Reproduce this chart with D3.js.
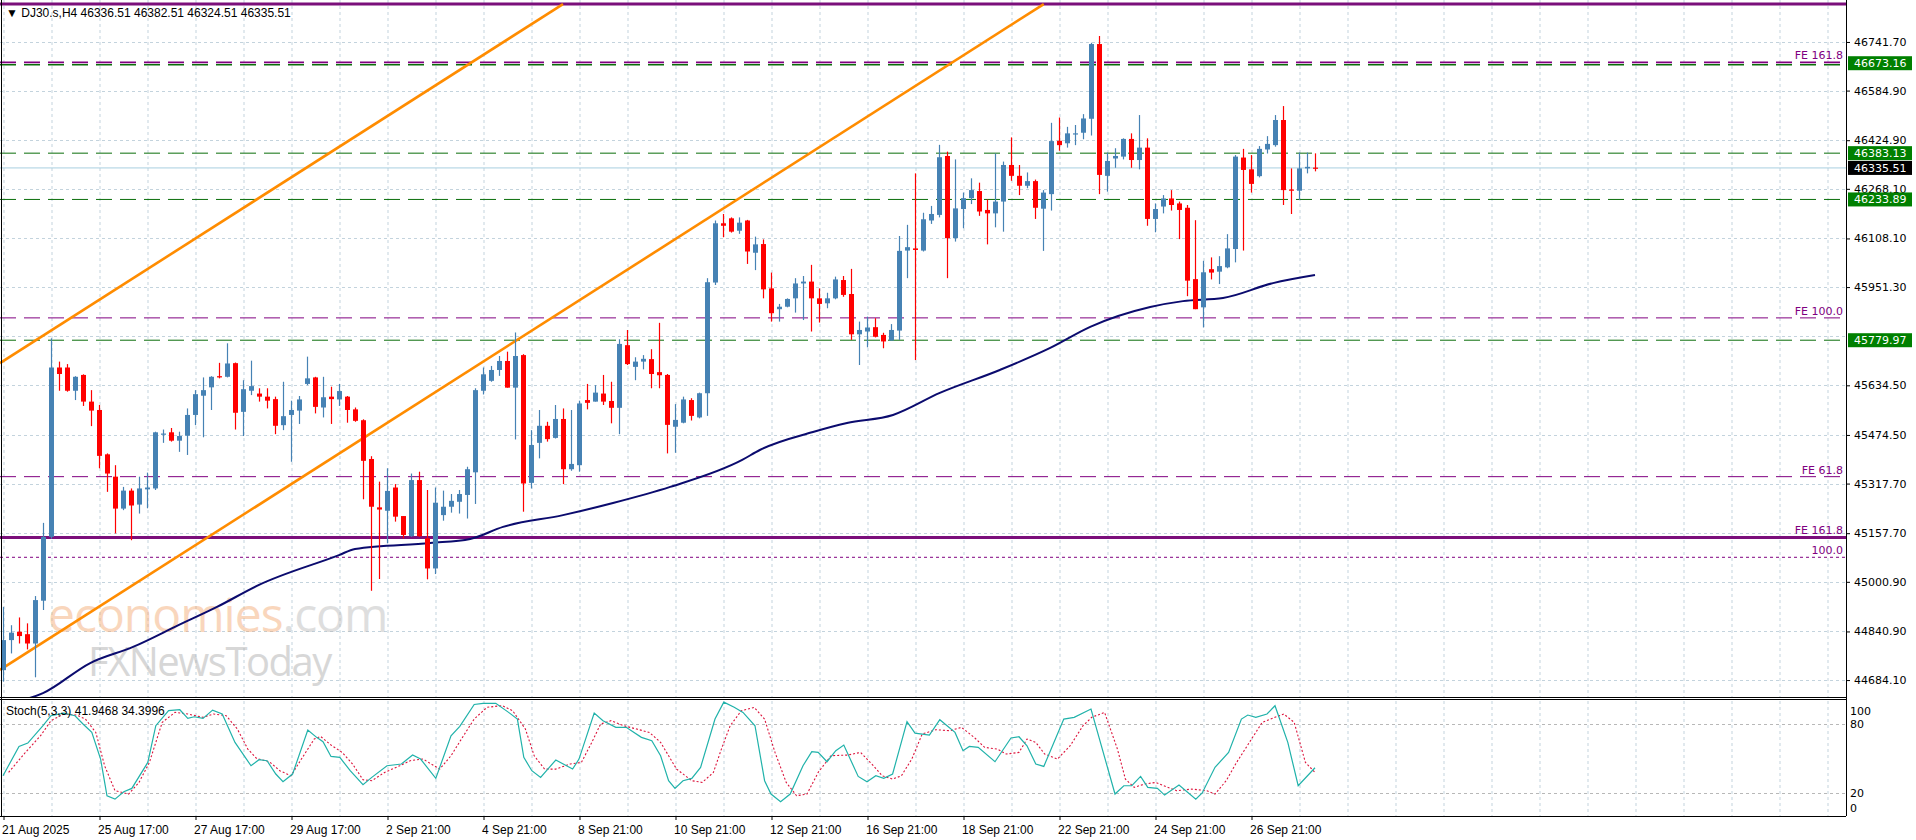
<!DOCTYPE html>
<html lang="en">
<head>
<meta charset="UTF-8">
<title>DJ30.s H4</title>
<script src="https://d3js.org/d3.v7.min.js"></script>
<style>
  body { margin: 0; background: #fff; }
  svg { display: block; }
  .axis-text { font-family: "DejaVu Sans", sans-serif; font-size: 11px; fill: #000; }
  .date-text { font-family: "Liberation Sans", sans-serif; font-size: 12px; fill: #000; }
</style>
</head>
<body>
<svg id="chart"></svg>
<script>
// --- data (H4 candles) ---
const opens = [44716,44813,44840,44832,44802,44940,45146,45692,45692,45617,45668,45582,45555,45412,45340,45237,45295,45250,45299,45302,
  45476,45483,45456,45472,45539,45601,45628,45664,45662,45706,45549,45617,45608,45598,45590,45506,45539,45553,45639,45660,
  45563,45598,45589,45598,45557,45522,45397,45241,45230,45305,45213,45148,45329,45141,45044,45216,45243,45259,45281,45354,
  45617,45649,45684,45713,45627,45732,45320,45449,45504,45465,45526,45364,45377,45587,45582,45608,45584,45562,45764,45694,
  45711,45719,45677,45668,45501,45514,45587,45531,45609,45966,46157,46173,46133,46166,46062,46090,45947,45880,45888,45915,
  45963,45969,45915,45899,45915,45974,45929,45799,45808,45822,45797,45779,45811,46069,46076,46069,46166,46184,46374,46109,
  46203,46238,46261,46200,46189,46227,46345,46310,46278,46293,46204,46251,46423,46415,46445,46449,46494,46735,46310,46366,
  46372,46429,46361,46401,46171,46211,46237,46221,46207,45977,45886,46009,46001,46015,46074,46369,46331,46309,46395,46409,
  46490,46266,46262,46334,46336.51];
const highs = [44920,44861,44886,44867,44955,45191,45786,45711,45703,45664,45670,45619,45571,45415,45377,45307,45302,45340,45353,45485,
  45492,45497,45485,45560,45619,45660,45664,45707,45770,45708,45651,45714,45625,45625,45598,45646,45585,45600,45727,45662,
  45662,45630,45639,45600,45563,45525,45406,45324,45367,45316,45213,45350,45356,45297,45305,45295,45284,45297,45372,45625,
  45692,45697,45729,45743,45805,45735,45490,45555,45517,45571,45560,45555,45585,45639,45635,45668,45646,45783,45813,45725,
  45732,45751,45836,45671,45574,45598,45593,45611,45980,46166,46187,46176,46176,46168,46114,46105,45998,45897,45915,45980,
  45987,46023,45947,45933,45985,45987,46010,45840,45856,45851,45804,45832,46116,46152,46318,46191,46213,46410,46388,46363,
  46256,46302,46288,46234,46382,46356,46434,46345,46321,46298,46264,46481,46498,46468,46474,46509,46739,46761,46385,46399,
  46431,46447,46506,46431,46221,46248,46264,46227,46216,46167,46036,46047,46051,46122,46377,46397,46377,46406,46438,46506,
  46535,46334,46385,46385,46382.51];
const lows = [44679,44770,44802,44783,44693,44910,45140,45617,45614,45587,45568,45503,45367,45291,45157,45232,45135,45221,45238,45297,
  45449,45453,45420,45410,45506,45467,45555,45657,45660,45492,45471,45603,45582,45560,45477,45490,45388,45510,45635,45544,
  45531,45510,45568,45514,45517,45267,44972,45010,45125,45195,45141,45146,45146,45009,45026,45198,45224,45221,45205,45252,
  45605,45646,45665,45627,45460,45227,45302,45399,45453,45463,45316,45359,45356,45557,45582,45571,45512,45477,45700,45651,
  45686,45625,45625,45415,45417,45512,45521,45528,45536,45958,46112,46127,46123,46026,46006,45915,45840,45840,45886,45869,
  45845,45808,45837,45883,45912,45920,45781,45700,45757,45789,45754,45779,45781,45980,45716,46066,46155,46176,45980,46098,
  46141,46219,46181,46089,46144,46130,46294,46248,46270,46171,46068,46198,46391,46401,46409,46428,46440,46251,46259,46336,
  46363,46336,46331,46149,46128,46189,46198,46106,45922,45880,45821,45976,45961,46012,46031,46069,46256,46305,46382,46404,
  46216,46187,46232,46318,46324.51];
const closes = [44813,44837,44826,44802,44942,45146,45692,45671,45617,45662,45582,45553,45407,45350,45237,45295,45247,45302,45305,45483,
  45479,45456,45471,45539,45606,45619,45662,45660,45705,45546,45622,45632,45598,45585,45504,45535,45555,45589,45657,45565,
  45596,45590,45616,45555,45520,45391,45243,45234,45294,45211,45152,45329,45148,45044,45256,45243,45262,45284,45364,45619,
  45670,45684,45713,45627,45729,45318,45442,45504,45461,45526,45364,45381,45576,45578,45611,45582,45562,45768,45703,45711,
  45720,45671,45667,45507,45523,45589,45536,45609,45967,46157,46149,46130,46159,46066,46089,45944,45867,45888,45913,45963,
  45969,45915,45897,45915,45976,45926,45799,45813,45821,45791,45776,45813,46068,46080,46071,46170,46187,46370,46109,46205,
  46238,46264,46195,46189,46227,46345,46310,46278,46293,46207,46256,46422,46409,46447,46447,46495,46735,46313,46358,46374,
  46429,46361,46401,46171,46203,46237,46216,46200,45972,45880,45999,45998,46019,46076,46372,46329,46284,46397,46413,46490,
  46264,46262,46334,46339,46335.51];

// moving average (navy line), bar index / value
const maIdx = [1,5,10.9,16.25,22,26.75,32,42,44,53.4,58.4,62.5,70,76.25,83.4,92.4,94.6,101.25,105.5,111.25,117.1,124.6,130.9,135.9,143.4,147.5,152.5,158.75,164];
const maVal = [44610,44642,44739,44791,44862,44920,44991,45087,45107,45126,45139,45178,45216,45255,45307,45394,45426,45484,45513,45539,45610,45684,45755,45823,45887,45906,45916,45964,45990];

// stochastic %K and %D
const kIdx = [0,2,3.1,5,6,7.6,9,10,11.1,12.2,13,14,15.1,16.1,18.1,19.1,20.7,22.1,23.1,23.9,25,26.2,27.4,29,31,32,33,34.1,35,36.2,38.1,39.2,40,41,42.1,43.4,45,46.1,48,49.8,51.2,52.2,54.1,56,57.1,58.9,60,61.6,63.2,64.3,65.1,66.1,67.2,69.1,71.2,72,73.9,75,76.6,77.9,79.8,81.1,82.2,83.2,84,85,86.1,87.2,89,90.1,91.4,92.5,94,95.2,96,97.2,98.4,100,101.1,101.9,103,104.1,105.1,106.9,108,109.1,110.1,111.2,113,114,115.8,117.1,119,120,120.8,121.9,124,126,127,128,129.1,130.1,132.6,133.9,136,139,140.1,141.1,142.2,143.1,144.3,145.2,147,149.1,149.9,151.5,153.2,154.8,155.6,156.6,158,159,160.6,161.9,164];
const kVal = [35,60.5,63.4,78.5,87.2,89.5,87.2,80,72.7,49.5,17.6,14.7,21.1,24,46.6,78.5,91.6,92.4,84.9,86.3,84.9,92.1,88.7,64,43.7,49,48.1,36.5,29.8,36.5,74.7,68.4,64.6,51.8,51,39.4,27.2,33.6,43.7,45.2,53,49.5,32.7,69.8,77.9,97,98,98,90.1,84.3,51,39.4,33.6,48.7,40.8,49.5,89.5,82.9,77.1,77.1,68.4,65.5,52.4,30.7,24,30.7,32.7,42.3,84.3,99,94.5,90.1,78.5,30.7,19.1,12.4,19.1,43.7,55.9,55.3,47.2,56.8,61.7,34.4,29.8,35,32.7,36.5,82,72.1,70.4,83.7,72.7,56.8,60.5,59.7,47.2,67.8,68.9,61.1,45.2,43.1,84.3,85.8,93,19.1,26.3,26.3,34.4,24.9,24,18.2,26.9,14.7,20,42.3,55.3,84.3,87.8,85.8,88.7,95.9,64,26.3,41.95];
const dIdx = [0.7,2.8,4.7,6,7.6,9.2,10.3,11.6,12.7,14,15.7,17,18.3,19.9,21.5,23.1,25,26.3,27.9,29.3,30.6,31.7,33.3,34.6,36,37.3,38.9,39.7,41,42.4,43.7,45,46.1,47.7,49.6,50.9,52.5,54.6,56,57.3,58.9,60.5,62.4,63.7,65.3,66.4,67.7,69.1,70.9,72.3,73.6,74.7,76,77.6,79.2,80.8,82.2,83.2,84.2,86.1,87.4,88.8,89.8,90.9,92.3,93.9,95.2,96.5,97.9,99.2,100.5,101.9,103.5,105.6,107.2,108.8,109.9,111.2,112.3,113.6,114.9,116.6,118.4,119.8,121.4,122.7,124.3,125.4,127,128,129.1,130.2,131.8,133.4,135,136.1,137.7,139.3,140.3,141.4,142.7,144.1,145.1,146.7,148.6,150.5,151.5,152.9,154.2,155.8,157.4,159,160.1,161.4,162.8,164];
const dVal = [37.9,55.3,69.8,82.9,88.7,87.8,84.3,72.7,43.7,22,19.1,29.2,46.6,81.4,90.1,88.7,85.8,88.7,87.2,75.6,58.2,50.1,47.2,39.4,35,49.5,66.9,69.2,61.7,55.3,45.2,31.5,30.7,37.9,43.7,48.1,49.5,40.8,52.4,66.9,84.3,94.5,96,91.6,75.6,52.4,40.8,40.8,45.2,46.6,64,80,82.9,78.5,75.6,72.7,64,52.4,40.8,30.7,29.2,37.9,58.2,78.5,91.6,94.5,84.3,55.3,29.2,17.6,19.1,37.9,52.4,53,55.3,43.7,35,32.1,35,49.5,71.3,75,74.2,77.1,68.4,59.7,58.2,53.9,55.3,66.9,64,53.9,49.5,61.1,78.5,85.8,90.1,58.2,32.1,24.9,27.8,29.2,26.3,22,23.4,22,19.1,30.7,46.6,64,81.4,85.8,88.7,81.4,46.6,37.9,34.4];

// trend channel (bar index, price at each end)
const channelA = [[-0.375, 45706], [70, 46864]];
const channelB = [[-0.375, 44717], [130.1, 46864]];

// horizontal levels
const greenLevels = [46673.16, 46383.13, 46233.89, 45779.97];
const feDashed = [{v: 46676, label: "FE 161.8"}, {v: 45852, label: "FE 100.0"}, {v: 45340, label: "FE 61.8"}];
const feSolid = [{v: 46864, label: ""}, {v: 45144, label: "FE 161.8"}];
const feDotted = [{v: 45080, label: "100.0"}];
const lastPrice = 46335.51;

const priceTicks = [46741.70,46584.90,46424.90,46268.10,46108.10,45951.30,45794.30,45634.50,45474.50,45317.70,45157.70,45000.90,44840.90,44684.10];
const dateLabels = ["21 Aug 2025","25 Aug 17:00","27 Aug 17:00","29 Aug 17:00","2 Sep 21:00","4 Sep 21:00","8 Sep 21:00","10 Sep 21:00","12 Sep 21:00","16 Sep 21:00","18 Sep 21:00","22 Sep 21:00","24 Sep 21:00","26 Sep 21:00"];

// --- layout ---
const W = 1916, H = 840;
const plotRight = 1846;
const mainTop = 0, mainBottom = 697;
const stTop = 701, stBottom = 816;

const svg = d3.select("#chart").attr("width", W).attr("height", H);
svg.append("rect").attr("width", W).attr("height", H).attr("fill", "#fff");

const x = d3.scaleLinear().domain([0, 1]).range([3, 11]);
const y = d3.scaleLinear().domain([44629.5, 46877]).range([mainBottom, mainTop]);
const ys = d3.scaleLinear().domain([0, 100]).range([stBottom, stTop]);

const defs = svg.append("defs");
defs.append("clipPath").attr("id", "clipMain").append("rect")
  .attr("x", 0).attr("y", mainTop).attr("width", plotRight).attr("height", mainBottom - mainTop);
defs.append("clipPath").attr("id", "clipSt").append("rect")
  .attr("x", 0).attr("y", stTop).attr("width", plotRight).attr("height", stBottom - stTop);

const gridColor = "#c3d3dd";

// vertical grid (every 6 bars)
const vIdx = d3.range(0, 231, 6);
[[mainTop, mainBottom], [stTop, stBottom]].forEach(([t, b]) => {
  svg.append("g").selectAll("line").data(vIdx).join("line")
    .attr("x1", d => x(d) + 1).attr("x2", d => x(d) + 1)
    .attr("y1", t).attr("y2", b)
    .attr("stroke", gridColor).attr("stroke-dasharray", "3,3");
});

// horizontal grid (price ticks)
svg.append("g").selectAll("line").data(priceTicks).join("line")
  .attr("x1", 0).attr("x2", plotRight)
  .attr("y1", d => Math.round(y(d)) + 0.5).attr("y2", d => Math.round(y(d)) + 0.5)
  .attr("stroke", gridColor).attr("stroke-dasharray", "3,3");
svg.append("g").selectAll("line").data([80, 20]).join("line")
  .attr("x1", 0).attr("x2", plotRight)
  .attr("y1", d => Math.round(ys(d)) + 0.5).attr("y2", d => Math.round(ys(d)) + 0.5)
  .attr("stroke", "#b8b8b8").attr("stroke-dasharray", "3,3");

const main = svg.append("g").attr("clip-path", "url(#clipMain)");

// horizontal levels
main.append("line").attr("x1", 0).attr("x2", plotRight)
  .attr("y1", y(lastPrice)).attr("y2", y(lastPrice)).attr("stroke", "#a9cfe0");
main.selectAll(".lvl-green").data(greenLevels).join("line")
  .attr("x1", 0).attr("x2", plotRight)
  .attr("y1", d => y(d) + (d === 46673.16 ? 1.5 : 0)).attr("y2", d => y(d) + (d === 46673.16 ? 1.5 : 0))
  .attr("stroke", "#0a6e0a").attr("stroke-width", d => d === 46673.16 ? 1.6 : 1)
  .attr("stroke-dasharray", "16,8");
main.selectAll(".lvl-fe").data(feDashed).join("line")
  .attr("x1", 0).attr("x2", plotRight)
  .attr("y1", d => y(d.v)).attr("y2", d => y(d.v))
  .attr("stroke", "#800080").attr("stroke-width", d => d.v === 46676 ? 1.6 : 1)
  .attr("stroke-dasharray", "16,8");
main.selectAll(".lvl-solid").data(feSolid).join("line")
  .attr("x1", 0).attr("x2", plotRight)
  .attr("y1", d => y(d.v)).attr("y2", d => y(d.v))
  .attr("stroke", "#7b0f7b").attr("stroke-width", 3);
main.selectAll(".lvl-dot").data(feDotted).join("line")
  .attr("x1", 0).attr("x2", plotRight)
  .attr("y1", d => y(d.v)).attr("y2", d => y(d.v))
  .attr("stroke", "#800080").attr("stroke-dasharray", "3,3");

// level labels
const feLabels = feDashed.concat(feSolid, feDotted).filter(d => d.label);
svg.append("g").selectAll("text").data(feLabels).join("text")
  .attr("class", "axis-text").style("fill", "#800080")
  .attr("x", plotRight - 3).attr("y", d => y(d.v) - 3)
  .attr("text-anchor", "end").text(d => d.label);

// watermark
const wm = main.append("g").attr("opacity", 0.45);
wm.append("text").attr("x", 48).attr("y", 632)
  .style("font-family", "'Open Sans', sans-serif").style("font-size", "48px")
  .attr("letter-spacing", "-1")
  .attr("fill", "#f3a66d").text("economies")
  .append("tspan").attr("fill", "#b8b8b8").text(".com");
wm.append("text").attr("x", 88).attr("y", 676)
  .style("font-family", "'Open Sans', sans-serif").style("font-size", "40px")
  .attr("fill", "#a8a8a8").attr("letter-spacing", "-1.5").text("FXNewsToday");

// channel lines
[channelA, channelB].forEach(c => {
  main.append("line")
    .attr("x1", x(c[0][0])).attr("y1", y(c[0][1]))
    .attr("x2", x(c[1][0])).attr("y2", y(c[1][1]))
    .attr("stroke", "#ff8c00").attr("stroke-width", 2.6);
});

// moving average
main.append("path")
  .attr("d", d3.line().x((d, i) => x(maIdx[i])).y(d => y(d)).curve(d3.curveMonotoneX)(maVal))
  .attr("fill", "none").attr("stroke", "#0b0b6e").attr("stroke-width", 2);

// candles
const candles = opens.map((o, i) => ({i, o, h: highs[i], l: lows[i], c: closes[i]}));
const colorOf = d => d.c >= d.o ? "#4682b4" : "#ff0000";
const cg = main.append("g");
cg.selectAll("line").data(candles).join("line")
  .attr("x1", d => x(d.i) + 0.5).attr("x2", d => x(d.i) + 0.5)
  .attr("y1", d => y(d.h)).attr("y2", d => y(d.l))
  .attr("stroke", colorOf).attr("stroke-width", 1.2);
cg.selectAll("rect").data(candles).join("rect")
  .attr("x", d => x(d.i) - 2).attr("width", 5)
  .attr("y", d => y(Math.max(d.o, d.c)))
  .attr("height", d => Math.max(1.2, Math.abs(y(d.o) - y(d.c))))
  .attr("fill", colorOf);

// stochastic
const st = svg.append("g").attr("clip-path", "url(#clipSt)");
st.append("path")
  .attr("d", d3.line().x((d, i) => x(dIdx[i])).y(d => ys(d))(dVal))
  .attr("fill", "none").attr("stroke", "#dc143c").attr("stroke-width", 1.1).attr("stroke-dasharray", "2,2");
st.append("path")
  .attr("d", d3.line().x((d, i) => x(kIdx[i])).y(d => ys(d))(kVal))
  .attr("fill", "none").attr("stroke", "#20b2aa").attr("stroke-width", 1.2);

// frames
svg.append("line").attr("x1", 0).attr("x2", plotRight).attr("y1", mainBottom + 0.5).attr("y2", mainBottom + 0.5).attr("stroke", "#000");
svg.append("line").attr("x1", 0).attr("x2", plotRight).attr("y1", stTop - 1.5).attr("y2", stTop - 1.5).attr("stroke", "#000");
svg.append("line").attr("x1", 0).attr("x2", plotRight).attr("y1", stBottom + 0.5).attr("y2", stBottom + 0.5).attr("stroke", "#000");
svg.append("line").attr("x1", 1.5).attr("x2", 1.5).attr("y1", 0).attr("y2", stBottom).attr("stroke", "#000");
svg.append("line").attr("x1", plotRight + 0.5).attr("x2", plotRight + 0.5).attr("y1", 0).attr("y2", stBottom).attr("stroke", "#000");

// price axis (the tick hidden behind the 45779.97 box is left out)
const pa = d3.axisRight(y).tickValues(priceTicks.filter(v => v !== 45794.30)).tickSize(4).tickFormat(d3.format(".2f"));
const pAxis = svg.append("g").attr("transform", `translate(${plotRight},0)`).call(pa);
pAxis.select(".domain").remove();
pAxis.selectAll("text").attr("class", "axis-text").attr("x", 8);

// price boxes
const boxes = greenLevels.map(v => ({v, fill: "#008000"})).concat([{v: lastPrice, fill: "#000"}]);
const bg = svg.append("g");
bg.selectAll("rect").data(boxes).join("rect")
  .attr("x", plotRight + 2).attr("width", 64)
  .attr("y", d => y(d.v) - 7).attr("height", 14).attr("fill", d => d.fill);
bg.selectAll("text").data(boxes).join("text")
  .attr("class", "axis-text").style("fill", "#fff")
  .attr("x", plotRight + 8).attr("y", d => y(d.v) + 4).text(d => d3.format(".2f")(d.v));

// stochastic axis
const sa = d3.axisRight(ys).tickValues([100, 80, 20, 0]).tickSize(0);
const sAxis = svg.append("g").attr("transform", `translate(${plotRight},0)`).call(sa);
sAxis.select(".domain").remove();
sAxis.selectAll("text").attr("class", "axis-text").attr("x", 4)
  .attr("dy", d => d === 100 ? "1.2em" : d === 0 ? "-0.4em" : "0.32em");

// time axis
const tIdx = dateLabels.map((d, i) => i * 12);
const tg = svg.append("g");
tg.selectAll("line").data(tIdx).join("line")
  .attr("x1", d => x(d) + 1).attr("x2", d => x(d) + 1)
  .attr("y1", stBottom).attr("y2", stBottom + 4).attr("stroke", "#000");
tg.selectAll("text").data(dateLabels).join("text")
  .attr("class", "date-text").attr("x", (d, i) => x(tIdx[i]) - 1).attr("y", 834).text(d => d);

// header texts
svg.append("text").attr("class", "date-text").attr("x", 6).attr("y", 17)
  .text("\u25BC DJ30.s,H4  46336.51 46382.51 46324.51 46335.51");
svg.append("text").attr("class", "date-text").attr("x", 6).attr("y", 715)
  .text("Stoch(5,3,3) 41.9468 34.3996");
</script>
</body>
</html>
